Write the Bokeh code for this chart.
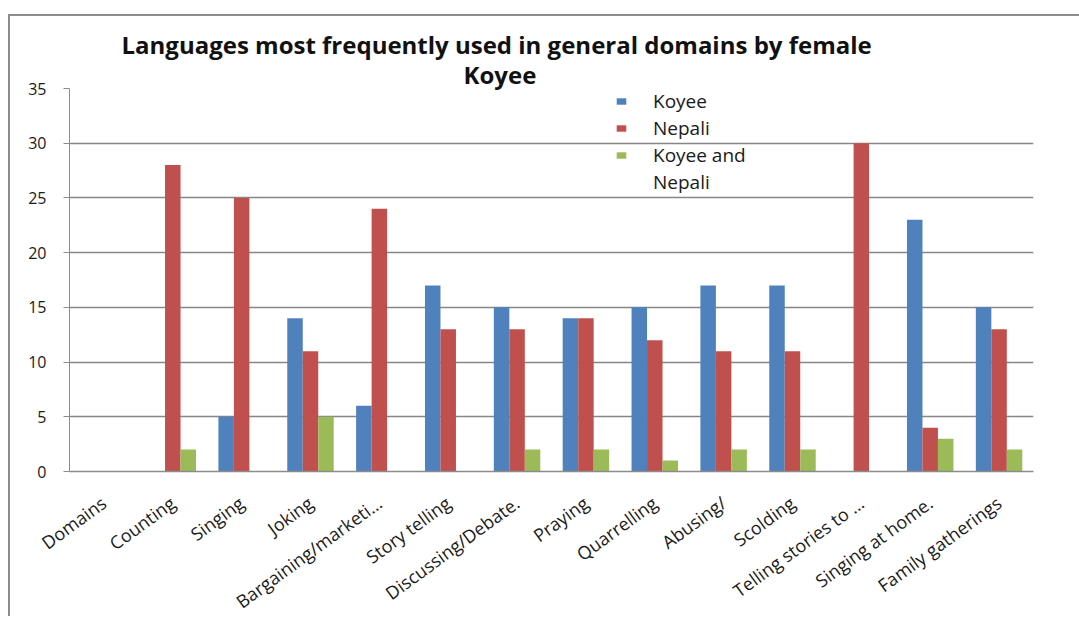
import math
from bokeh.plotting import figure
from bokeh.layouts import column, row
from bokeh.models import (ColumnDataSource, Legend, LegendItem, SingleIntervalTicker,
                          Range1d, Title, Div)
from bokeh.transform import dodge
from bokeh.embed import file_html
from bokeh.resources import INLINE

categories = ["Domains", "Counting", "Singing", "Joking", "Bargaining/marketi\u2026",
              "Story telling", "Discussing/Debate.", "Praying", "Quarrelling", "Abusing/",
              "Scolding", "Telling stories to \u2026", "Singing at home.", "Family gatherings"]
koyee = [0, 0, 5, 14, 6, 17, 15, 14, 15, 17, 17, 0, 23, 15]
nepali = [0, 28, 25, 11, 24, 13, 13, 14, 12, 11, 11, 30, 4, 13]
both = [0, 2, 0, 5, 0, 0, 2, 2, 1, 2, 2, 0, 3, 2]
series_names = ["Koyee", "Nepali", "Koyee and", "Nepali"]
colors = ["#4F81BD", "#C0504D", "#9BBB59"]
title_lines = ["Languages most frequently used in general domains by  female", "Koyee"]

src = ColumnDataSource(dict(cat=categories, koyee=koyee, nepali=nepali, both=both))

p = figure(x_range=categories, y_range=Range1d(0, 35), output_backend="svg",
           toolbar_location=None, frame_width=964, frame_height=383,
           min_border_left=59, min_border_right=46, min_border_top=72, min_border_bottom=145)

bw = 0.225
r1 = p.vbar(x=dodge("cat", -bw, range=p.x_range), top="koyee", width=bw, source=src,
            fill_color=colors[0], line_color=None)
r2 = p.vbar(x=dodge("cat", 0, range=p.x_range), top="nepali", width=bw, source=src,
            fill_color=colors[1], line_color=None)
r3 = p.vbar(x=dodge("cat", bw, range=p.x_range), top="both", width=bw, source=src,
            fill_color=colors[2], line_color=None)

p.outline_line_color = None
p.xgrid.grid_line_color = None
p.ygrid.grid_line_color = "#868686"
p.ygrid.grid_line_width = 1.5
p.yaxis.ticker = SingleIntervalTicker(interval=5)
p.yaxis.axis_line_color = "#8c8c8c"
p.yaxis.major_tick_line_color = "#8c8c8c"
p.yaxis.major_tick_out = 6
p.yaxis.major_tick_in = 0
p.yaxis.minor_tick_line_color = None
p.yaxis.major_label_standoff = 17
p.yaxis.major_label_text_font = "Open Sans"
p.yaxis.major_label_text_font_size = "16px"
p.yaxis.major_label_text_color = "#1a1a1a"

p.xaxis.axis_line_color = "#8c8c8c"
p.xaxis.axis_line_width = 1.5
p.xaxis.major_tick_line_color = None
p.xaxis.minor_tick_line_color = None
p.xaxis.major_label_orientation = 0.63
p.xaxis.major_label_standoff = 23
p.xaxis.major_label_text_font = "Open Sans"
p.xaxis.major_label_text_font_size = "18px"
p.xaxis.major_label_text_color = "#1a1a1a"

p.add_layout(Title(text=title_lines[1], align="left", offset=394,
                   text_font="Open Sans", text_font_size="24px", text_font_style="bold",
                   text_color="#111111", standoff=-5), "above")
p.add_layout(Title(text=title_lines[0], align="left", offset=52,
                   text_font="Open Sans", text_font_size="24px", text_font_style="bold",
                   text_color="#111111", standoff=-4), "above")

legend = Legend(items=[LegendItem(label=series_names[0], renderers=[r1]),
                       LegendItem(label=series_names[1], renderers=[r2]),
                       LegendItem(label=series_names[2], renderers=[r3]),
                       LegendItem(label=series_names[3], renderers=[])],
                location=(546, 276), orientation="vertical",
                glyph_width=12, glyph_height=8, label_standoff=26, spacing=1,
                label_height=22,
                label_text_font="Open Sans", label_text_font_size="19px",
                label_text_color="#1a1a1a", border_line_alpha=0, background_fill_alpha=0,
                padding=0, margin=0)
p.add_layout(legend, "center")

# chart-area frame lines (top and left edges) drawn as thin filled blocks
top_line = Div(text="", width=1071, height=2, margin=0,
               styles={"background-color": "#8c8c8c"})
left_line = Div(text="", width=2, height=600, margin=0,
                styles={"background-color": "#8c8c8c"})
layout = column(top_line, row(left_line, p, spacing=0, margin=0),
                spacing=0, margin=(14, 0, 0, 8))

open("out.html", "w").write(file_html(layout, INLINE))
